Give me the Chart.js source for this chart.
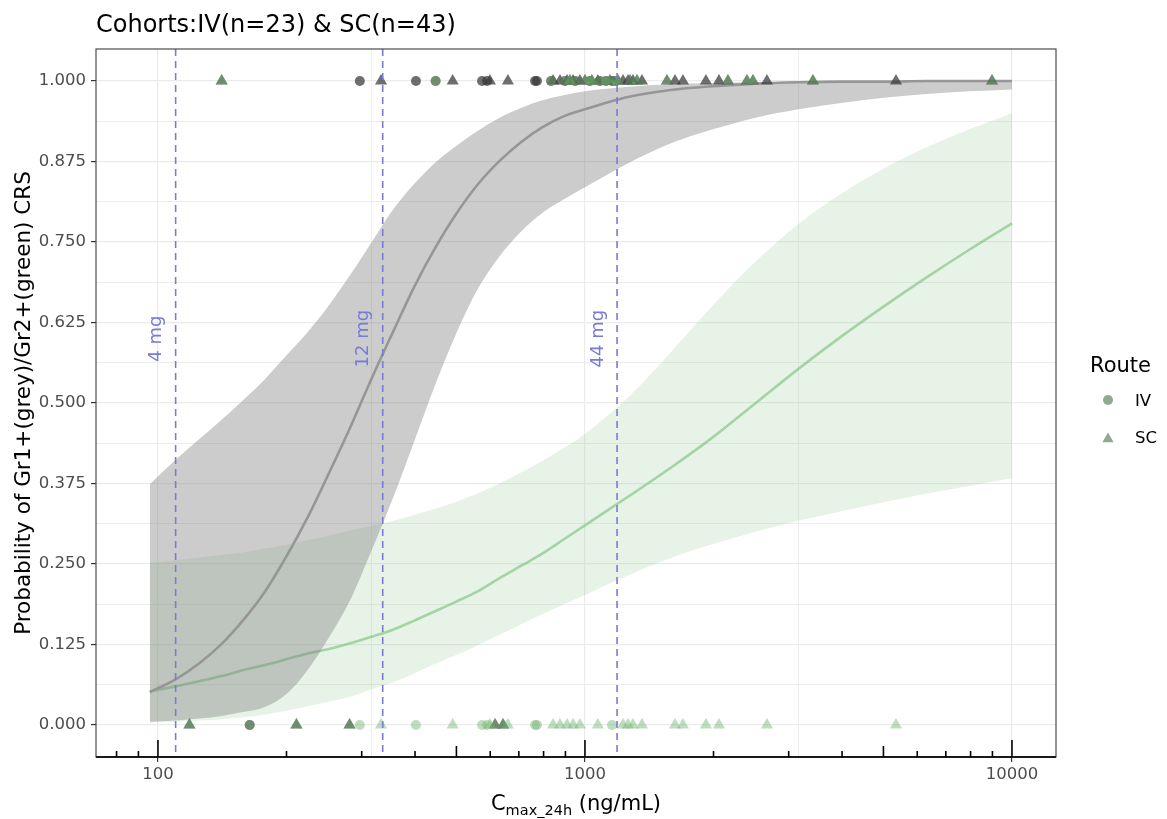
<!DOCTYPE html>
<html>
<head>
<meta charset="utf-8">
<title>CRS probability vs Cmax</title>
<script src="https://cdn.jsdelivr.net/npm/chart.js@4.4.1/dist/chart.umd.min.js"></script>
<style>
  html, body { margin: 0; padding: 0; background: #fff; }
  #wrap { width: 1167px; height: 819px; }
</style>
</head>
<body>
<div id="wrap"><canvas id="crs" width="1167" height="819"></canvas></div>
<script>
// subjects: Cmax (ng/mL), route, Gr1+ event (grey), Gr2+ event (green)
const cmax = [118.5, 141, 164, 211, 281, 297, 333, 402, 447, 490,
  574, 590, 599, 616, 643, 660, 764, 772, 833, 842,
  874, 898, 908, 922, 938, 948, 973, 1000, 1027, 1038,
  1072, 1084, 1120, 1144, 1157, 1182, 1195, 1228, 1261, 1275,
  1295, 1324, 1360, 1556, 1625, 1696, 1920, 2060, 2162, 2395,
  2474, 2668, 3419, 5350, 8980];
const route = ['SC','SC','IV','SC','SC','IV','SC','IV','IV','SC',
  'IV','IV','SC','SC','SC','SC','IV','IV','IV','SC',
  'SC','IV','SC','SC','SC','IV','SC','SC','IV','SC',
  'SC','IV','IV','SC','IV','IV','SC','SC','SC','SC',
  'SC','SC','SC','SC','SC','SC','SC','SC','SC','SC',
  'SC','SC','SC','SC','SC'];
const gr1 = [0,1,0,0,0,1,1,1,1,1,
  1,1,1,0,0,1,1,1,1,1,
  1,1,1,1,1,1,1,1,1,1,
  1,1,1,1,1,1,1,1,1,1,
  1,1,1,1,1,1,1,1,1,1,
  1,1,1,1,1];
const gr2 = [0,1,0,0,0,0,0,0,1,0,
  0,0,0,0,0,0,0,0,1,0,
  0,1,0,1,0,1,0,1,1,1,
  0,1,1,1,0,1,1,0,0,1,
  0,1,0,1,0,0,0,0,1,1,
  1,0,1,0,1];

// fitted logistic curves and 95% bands
const xFit = [95.7, 110, 125, 141, 158, 178, 200, 224, 251, 282, 316, 355, 398, 447, 501, 562,
  631, 708, 794, 891, 1000, 1259, 1585, 1995, 2512, 3162, 3981, 5012, 6310, 7943, 10000];
const greyFit = [0.051,0.071,0.096,0.126,0.162,0.207,0.262,0.322,0.390,0.462,0.537,0.610,0.680,0.742,0.795,0.840,
  0.876,0.905,0.928,0.945,0.956,0.975,0.986,0.992,0.996,0.998,0.999,0.999,1.000,1.000,1.000];
const greyHi = [0.374,0.412,0.444,0.474,0.504,0.537,0.574,0.610,0.651,0.699,0.749,0.800,0.840,0.874,0.900,0.923,
  0.943,0.958,0.970,0.978,0.984,0.991,0.995,0.997,0.998,0.999,0.999,1.000,1.000,1.000,1.000];
const greyLo = [0.005,0.007,0.010,0.014,0.020,0.028,0.048,0.085,0.135,0.194,0.270,0.352,0.440,0.530,0.610,0.678,
  0.728,0.766,0.795,0.816,0.835,0.872,0.903,0.925,0.943,0.956,0.966,0.974,0.980,0.984,0.987];
const greenFit = [0.052,0.060,0.068,0.076,0.085,0.093,0.102,0.111,0.118,0.127,0.137,0.148,0.162,0.177,0.192,0.208,
  0.228,0.247,0.266,0.288,0.310,0.354,0.399,0.447,0.500,0.553,0.603,0.650,0.695,0.738,0.779];
const greenHi = [0.252,0.256,0.260,0.264,0.268,0.274,0.280,0.287,0.294,0.302,0.309,0.317,0.326,0.336,0.347,0.360,
  0.375,0.392,0.410,0.430,0.452,0.508,0.578,0.652,0.720,0.778,0.825,0.864,0.897,0.925,0.950];
const greenLo = [0.004,0.005,0.007,0.009,0.012,0.016,0.022,0.029,0.036,0.044,0.055,0.066,0.080,0.095,0.109,0.124,
  0.140,0.156,0.172,0.187,0.202,0.232,0.259,0.281,0.300,0.317,0.332,0.346,0.359,0.371,0.383];

// dose reference lines
const doseCmax = [110, 336, 1189];
const doseLabels = ['4 mg', '12 mg', '44 mg'];
const doseLabelY = 0.6;

// axes
const xTicks = [100, 1000, 10000];
const xMinor = [316.2, 3162];
const logMid = [500, 5000];
const logMinor = [80, 90, 200, 300, 400, 600, 700, 800, 900, 2000, 3000, 4000, 6000, 7000, 8000, 9000];
const yTicks = [0, 0.125, 0.25, 0.375, 0.5, 0.625, 0.75, 0.875, 1];
const yMinor = [0.0625, 0.1875, 0.3125, 0.4375, 0.5625, 0.6875, 0.8125, 0.9375];

const titleText = 'Cohorts:IV(n=23) & SC(n=43)';
const yTitle = 'Probability of Gr1+(grey)/Gr2+(green) CRS';
const legendTitle = 'Route';
const legendLabels = ['IV', 'SC'];

const FONT = '"DejaVu Sans"';
Chart.defaults.font.family = FONT;

const greyPt = 'rgba(55,55,55,0.72)';
const greenPt = 'rgba(110,180,110,0.45)';
const doseColor = '#7a7ad8';
const legendColor = '#8fab8f';

const xGrid = [...xTicks, ...xMinor].sort((a, b) => a - b);
const yGrid = [...yTicks, ...yMinor].sort((a, b) => a - b);

const curve = ys => xFit.map((x, i) => ({ x: x, y: ys[i] }));
const band = { borderWidth: 0, pointRadius: 0, cubicInterpolationMode: 'monotone' };
const shape = ctx => route[ctx.dataIndex] === 'IV' ? 'circle' : 'triangle';
const size = ctx => route[ctx.dataIndex] === 'IV' ? 5 : 7;

const decor = {
  id: 'decor',
  afterDatasetsDraw(chart) {
    const { ctx, chartArea: a, scales: { x, y } } = chart;
    ctx.save();
    ctx.beginPath();
    ctx.rect(a.left, a.top, a.right - a.left, a.bottom - a.top);
    ctx.clip();
    ctx.strokeStyle = doseColor;
    ctx.lineWidth = 1.6;
    ctx.setLineDash([7, 5]);
    doseCmax.forEach(v => {
      const px = x.getPixelForValue(v);
      ctx.beginPath();
      ctx.moveTo(px, a.top);
      ctx.lineTo(px, a.bottom);
      ctx.stroke();
    });
    ctx.setLineDash([]);
    ctx.fillStyle = doseColor;
    ctx.font = '18px ' + FONT;
    ctx.textAlign = 'center';
    ctx.textBaseline = 'alphabetic';
    doseCmax.forEach((v, i) => {
      ctx.save();
      ctx.translate(x.getPixelForValue(v) - 14.5, y.getPixelForValue(doseLabelY));
      ctx.rotate(-Math.PI / 2);
      ctx.fillText(doseLabels[i], 0, 0);
      ctx.restore();
    });
    ctx.restore();
  },
  afterDraw(chart) {
    const { ctx, chartArea: a, scales: { x } } = chart;
    ctx.save();
    // panel border + axis line
    ctx.strokeStyle = '#4d4d4d';
    ctx.lineWidth = 1.2;
    ctx.strokeRect(a.left, a.top, a.right - a.left, a.bottom - a.top);
    ctx.strokeStyle = '#1a1a1a';
    ctx.lineWidth = 1.8;
    ctx.beginPath();
    ctx.moveTo(a.left, a.bottom);
    ctx.lineTo(a.right, a.bottom);
    ctx.stroke();

    // log ticks along the bottom
    ctx.strokeStyle = '#000';
    ctx.lineWidth = 1.6;
    const tick = (v, len) => {
      const px = x.getPixelForValue(v);
      ctx.beginPath();
      ctx.moveTo(px, a.bottom);
      ctx.lineTo(px, a.bottom - len);
      ctx.stroke();
    };
    xTicks.forEach(v => tick(v, 17));
    logMid.forEach(v => tick(v, 11));
    logMinor.forEach(v => tick(v, 6));

    ctx.fillStyle = '#000';
    ctx.textBaseline = 'alphabetic';
    ctx.textAlign = 'left';
    ctx.font = '24px ' + FONT;
    ctx.fillText(titleText, a.left, 32);

    // x title with subscript
    const big = '21px ' + FONT, small = '14.5px ' + FONT;
    ctx.font = big;
    const wC = ctx.measureText('C').width;
    const wR = ctx.measureText(' (ng/mL)').width;
    ctx.font = small;
    const wS = ctx.measureText('max_24h').width;
    let sx = (a.left + a.right) / 2 - (wC + wS + wR) / 2;
    ctx.font = big;
    ctx.fillText('C', sx, 810);
    sx += wC;
    ctx.font = small;
    ctx.fillText('max_24h', sx, 815);
    sx += wS;
    ctx.font = big;
    ctx.fillText(' (ng/mL)', sx, 810);

    // y title
    ctx.save();
    ctx.translate(30, (a.top + a.bottom) / 2);
    ctx.rotate(-Math.PI / 2);
    ctx.textAlign = 'center';
    ctx.font = '21.5px ' + FONT;
    ctx.fillText(yTitle, 0, 0);
    ctx.restore();

    // legend
    ctx.font = '21px ' + FONT;
    ctx.fillText(legendTitle, 1090, 372);
    ctx.font = '16.5px ' + FONT;
    ctx.fillText(legendLabels[0], 1135, 406);
    ctx.fillText(legendLabels[1], 1135, 443);
    ctx.fillStyle = legendColor;
    ctx.beginPath();
    ctx.arc(1108, 400, 5, 0, Math.PI * 2);
    ctx.fill();
    const r = 6.5, cx = 1108, cy = 439;
    ctx.beginPath();
    ctx.moveTo(cx, cy - r);
    ctx.lineTo(cx + r * 0.866, cy + r / 2);
    ctx.lineTo(cx - r * 0.866, cy + r / 2);
    ctx.closePath();
    ctx.fill();
    ctx.restore();
  }
};

new Chart(document.getElementById('crs'), {
  type: 'line',
  data: {
    datasets: [
      { ...band, data: curve(greenHi), fill: '+1', backgroundColor: 'rgba(144,200,144,0.22)', order: 6 },
      { ...band, data: curve(greenLo), fill: false, order: 6 },
      { data: curve(greenFit), borderColor: 'rgba(120,190,120,0.6)', borderWidth: 2.6, pointRadius: 0,
        cubicInterpolationMode: 'monotone', fill: false, order: 5 },
      { ...band, data: curve(greyHi), fill: '+1', backgroundColor: 'rgba(128,128,128,0.40)', order: 4 },
      { ...band, data: curve(greyLo), fill: false, order: 4 },
      { data: curve(greyFit), borderColor: '#969696', borderWidth: 2.6, pointRadius: 0,
        cubicInterpolationMode: 'monotone', fill: false, order: 3 },
      { data: cmax.map((v, i) => ({ x: v, y: gr1[i] })), showLine: false, pointStyle: shape, pointRadius: size,
        backgroundColor: greyPt, borderWidth: 0, order: 2 },
      { data: cmax.map((v, i) => ({ x: v, y: gr2[i] })), showLine: false, pointStyle: shape, pointRadius: size,
        backgroundColor: greenPt, borderWidth: 0, order: 1 }
    ]
  },
  options: {
    responsive: false,
    devicePixelRatio: 1,
    animation: false,
    events: [],
    layout: { padding: { top: 49, right: 111, bottom: 0, left: 0 } },
    plugins: { legend: { display: false }, tooltip: { enabled: false } },
    scales: {
      x: {
        type: 'logarithmic',
        min: 71.6,
        max: 12680,
        afterBuildTicks: s => { s.ticks = xGrid.map(v => ({ value: v })); },
        afterFit: s => { s.height = 62; },
        ticks: {
          autoSkip: false, maxRotation: 0, padding: 3, color: '#4d4d4d', font: { size: 16.5 },
          callback: v => xTicks.includes(v) ? String(v) : ''
        },
        grid: {
          color: '#ebebeb',
          lineWidth: c => xTicks.includes(c.tick.value) ? 1.2 : 0.9,
          tickLength: 5, tickWidth: 1.2,
          tickColor: c => xTicks.includes(c.tick.value) ? '#333' : 'rgba(0,0,0,0)'
        },
        border: { display: false }
      },
      y: {
        min: -0.0497,
        max: 1.0497,
        afterBuildTicks: s => { s.ticks = yGrid.map(v => ({ value: v })); },
        afterFit: s => { s.width = 96; },
        ticks: {
          autoSkip: false, padding: 5, color: '#4d4d4d', font: { size: 16.5 },
          callback: v => yTicks.includes(v) ? v.toFixed(3) : ''
        },
        grid: {
          color: '#ebebeb',
          lineWidth: c => yTicks.includes(c.tick.value) ? 1.2 : 0.9,
          tickLength: 5, tickWidth: 1.2,
          tickColor: c => yTicks.includes(c.tick.value) ? '#333' : 'rgba(0,0,0,0)'
        },
        border: { display: false }
      }
    }
  },
  plugins: [decor]
});
</script>
</body>
</html>
